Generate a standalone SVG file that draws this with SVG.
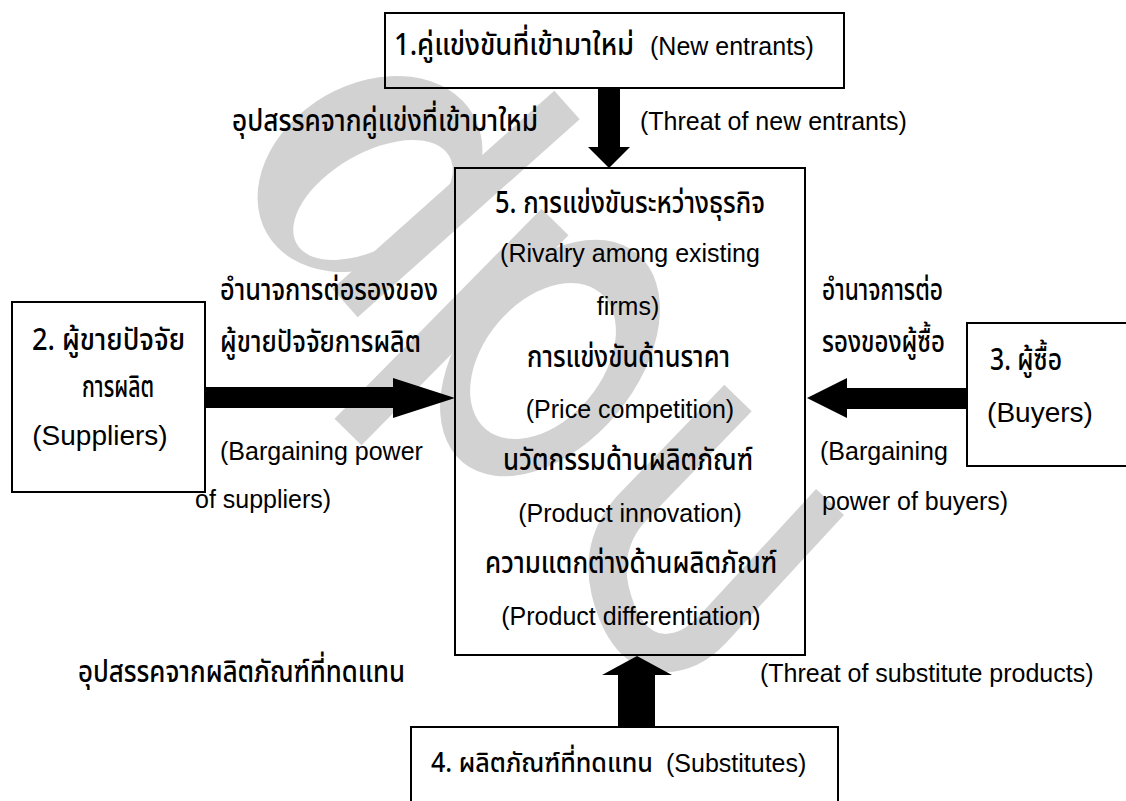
<svg xmlns="http://www.w3.org/2000/svg" width="1126" height="801" viewBox="0 0 1126 801">
<style>
.bg{fill:#fff}
.wm{fill:#d2d2d2;stroke:none}
.wms{fill:none;stroke:#d2d2d2;stroke-width:38;stroke-linejoin:round}
.box{fill:none;stroke:#000;stroke-width:2}
.arr{fill:#000;stroke:none}
.en{font-family:"Liberation Sans",Arial,sans-serif;font-size:25px;font-weight:normal;fill:#000}
.big{font-size:28px}
.th{font-family:"Noto Sans Thai","Noto Serif Thai","Loma","Garuda","Tlwg Typo","Norasi","Kinnari","DejaVu Sans","Liberation Sans",sans-serif;font-size:30px;font-weight:500;fill:#000}
.sm{font-size:27px}
.mid{text-anchor:middle}
</style>
<defs>
<mask id="hole1" maskUnits="userSpaceOnUse" x="0" y="0" width="1126" height="801">
<rect x="0" y="0" width="1126" height="801" fill="#fff"/>
<ellipse cx="373" cy="200" rx="88" ry="47" transform="rotate(-30 373 200)" fill="#000"/>
</mask>
<mask id="hole2" maskUnits="userSpaceOnUse" x="0" y="0" width="1126" height="801">
<rect x="0" y="0" width="1126" height="801" fill="#fff"/>
<ellipse cx="543" cy="361" rx="89" ry="59" transform="rotate(-50 543 361)" fill="#000"/>
</mask>
</defs>
<rect class="bg" x="0" y="0" width="1126" height="801"/>
<g id="watermark">
<g mask="url(#hole1)"><ellipse class="wm" cx="370" cy="174" rx="119" ry="90" transform="rotate(-30 370 174)"/></g>
<polygon class="wm" points="579.7,119.2 554.3,90.8 332.3,288.8 357.7,317.2"/>
<g mask="url(#hole2)"><ellipse class="wm" cx="550" cy="358" rx="136" ry="87" transform="rotate(-50 550 358)"/></g>
<polygon class="wm" points="568.5,235.3 541.5,208.7 334.5,418.7 361.5,445.3"/>
<path class="wms" d="M738,398 L630,510 Q600,545 610,590 Q625,652 665,653 Q690,653 712,630 L830,502"/>
</g>
<g id="connectors">
<polygon class="arr" points="598,88 620,88 620,147 630,147 609,168 588,147 598,147"/>
<polygon class="arr" points="205,387 393,387 393,378 455,398 393,418 393,408 205,408"/>
<polygon class="arr" points="967,388 847,388 847,378 807,398 847,418 847,409 967,409"/>
<polygon class="arr" points="618,727 655,727 655,675 672,675 637,656 602,675 618,675"/>
</g>
<g id="node1">
<rect class="box" x="385" y="13" width="459" height="75"/>
<text y="55"><tspan class="th" x="394" textLength="240" lengthAdjust="spacingAndGlyphs">1.คู่แข่งขันที่เข้ามาใหม่</tspan><tspan class="en" x="650">(New entrants)</tspan></text>
</g>
<g id="node5">
<rect class="box" x="455" y="168" width="350" height="487"/>
<text class="th" x="495" y="213" textLength="270" lengthAdjust="spacingAndGlyphs">5. การแข่งขันระหว่างธุรกิจ</text>
<text class="en mid" x="630" y="262">(Rivalry among existing</text>
<text class="en mid" x="628" y="315">firms)</text>
<text class="th" x="527" y="367" textLength="203" lengthAdjust="spacingAndGlyphs">การแข่งขันด้านราคา</text>
<text class="en mid" x="630" y="418">(Price competition)</text>
<text class="th" x="503" y="470" textLength="250" lengthAdjust="spacingAndGlyphs">นวัตกรรมด้านผลิตภัณฑ์</text>
<text class="en mid" x="630" y="522">(Product innovation)</text>
<text class="th" x="485" y="573" textLength="292" lengthAdjust="spacingAndGlyphs">ความแตกต่างด้านผลิตภัณฑ์</text>
<text class="en mid" x="631" y="625">(Product differentiation)</text>
</g>
<g id="node2">
<rect class="box" x="12" y="302" width="193" height="190"/>
<text class="th" x="32" y="350" textLength="153" lengthAdjust="spacingAndGlyphs">2. ผู้ขายปัจจัย</text>
<text class="th" x="82" y="397" textLength="72" lengthAdjust="spacingAndGlyphs">การผลิต</text>
<text class="en big mid" x="100" y="445">(Suppliers)</text>
</g>
<g id="node3">
<rect class="box" x="967" y="323" width="175" height="143"/>
<text class="th" x="990" y="370" textLength="72" lengthAdjust="spacingAndGlyphs">3. ผู้ซื้อ</text>
<text class="en big mid" x="1040" y="422">(Buyers)</text>
</g>
<g id="node4">
<rect class="box" x="411" y="727" width="427" height="90"/>
<text y="772"><tspan class="th sm" x="431" textLength="222" lengthAdjust="spacingAndGlyphs">4. ผลิตภัณฑ์ที่ทดแทน</tspan><tspan class="en" x="666">(Substitutes)</tspan></text>
</g>
<g id="labels">
<text class="th" x="232" y="131" textLength="306" lengthAdjust="spacingAndGlyphs">อุปสรรคจากคู่แข่งที่เข้ามาใหม่</text>
<text class="en" x="640" y="130">(Threat of new entrants)</text>
<text class="th" x="220" y="300" textLength="218" lengthAdjust="spacingAndGlyphs">อำนาจการต่อรองของ</text>
<text class="th" x="220" y="352" textLength="201" lengthAdjust="spacingAndGlyphs">ผู้ขายปัจจัยการผลิต</text>
<text class="en" x="220" y="460">(Bargaining power</text>
<text class="en" x="195" y="508">of suppliers)</text>
<text class="th" x="822" y="300" textLength="121" lengthAdjust="spacingAndGlyphs">อำนาจการต่อ</text>
<text class="th" x="822" y="352" textLength="123" lengthAdjust="spacingAndGlyphs">รองของผู้ซื้อ</text>
<text class="en" x="820" y="460">(Bargaining</text>
<text class="en" x="822" y="510">power of buyers)</text>
<text class="th" x="78" y="682" textLength="327" lengthAdjust="spacingAndGlyphs">อุปสรรคจากผลิตภัณฑ์ที่ทดแทน</text>
<text class="en" x="760" y="682">(Threat of substitute products)</text>
</g>
</svg>
